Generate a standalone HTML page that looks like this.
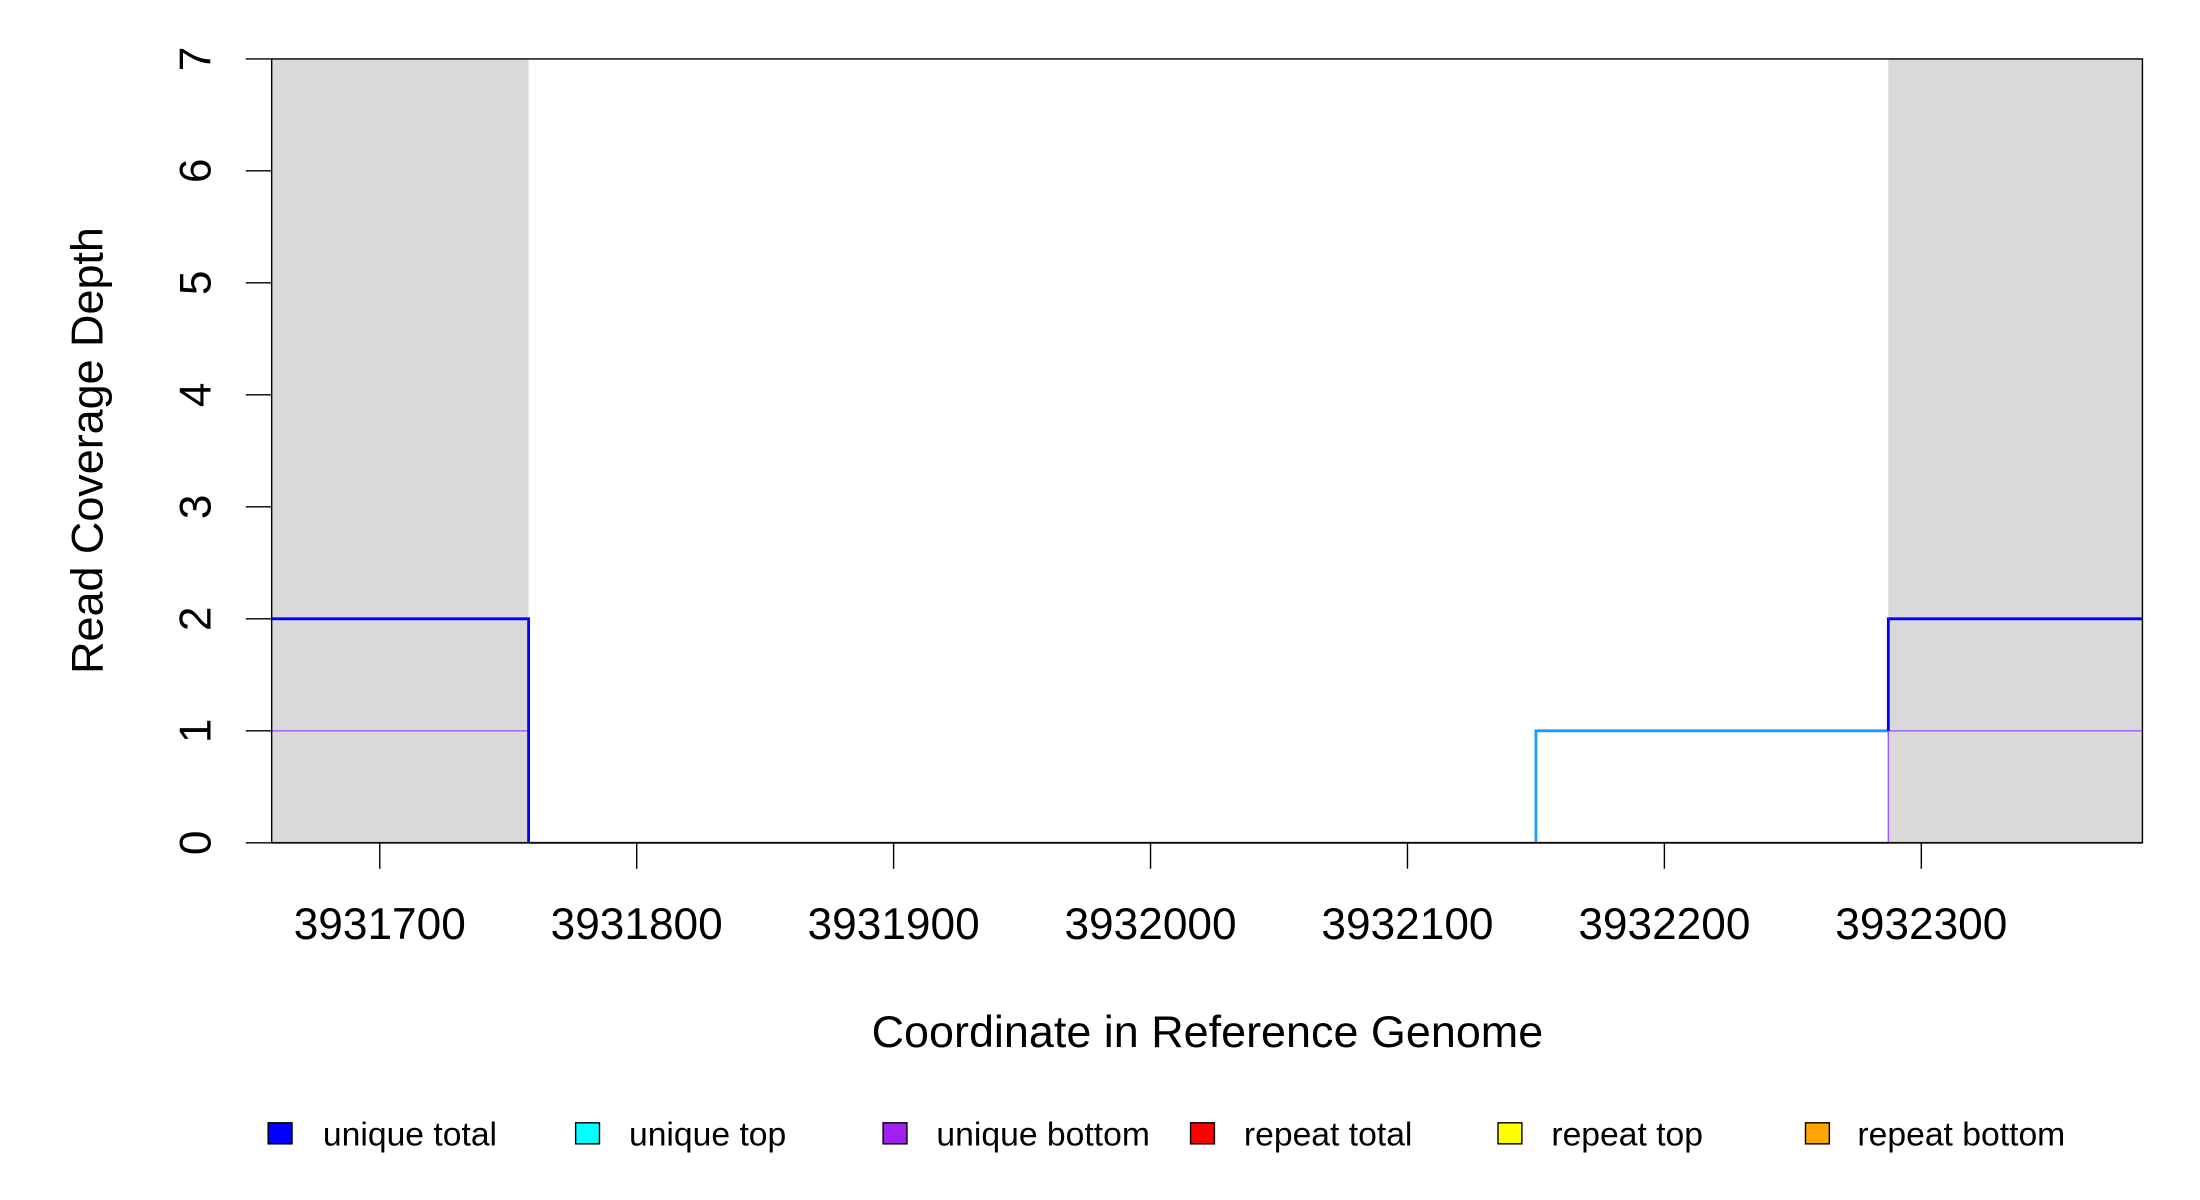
<!DOCTYPE html>
<html><head><meta charset="utf-8"><style>html,body{margin:0;padding:0;background:#fff}svg{display:block}</style></head>
<body>
<svg width="2200" height="1200" viewBox="0 0 1567 855" preserveAspectRatio="none" xmlns="http://www.w3.org/2000/svg" font-family="Liberation Sans, sans-serif">
<rect x="0" y="0" width="1567" height="855" fill="#fff"/>
<rect x="193" y="42" width="183.5" height="558.5" fill="#d9d9d9"/>
<rect x="1345" y="42" width="181" height="558.5" fill="#d9d9d9"/>
<polyline points="193,600.5 376.5,600.5" stroke="#ff8c00" stroke-width="1.5" fill="none"/>
<polyline points="1345,600.5 1526,600.5" stroke="#ff8c00" stroke-width="1.5" fill="none"/>
<polyline points="1094,600.5 1345,600.5" stroke="#e0405a" stroke-width="1.5" fill="none"/>
<polyline points="193,520.7 376.5,520.7 376.5,600.5" stroke="#9b59ff" stroke-width="1" fill="none"/>
<polyline points="1345,600.5 1345,520.7 1526,520.7" stroke="#9b59ff" stroke-width="1" fill="none"/>
<polyline points="376.5,600.5 1094,600.5" stroke="#4060ff" stroke-width="1.5" fill="none"/>
<polyline points="1094,600.5 1094,520.7 1345,520.7" stroke="#1e9bff" stroke-width="2" fill="none"/>
<polyline points="193,440.9 376.5,440.9 376.5,600.5" stroke="#0000ff" stroke-width="2" fill="none"/>
<polyline points="1345,520.7 1345,440.9 1526,440.9" stroke="#0000ff" stroke-width="2" fill="none"/>
<rect x="193.5" y="42" width="1332.5" height="558.5" fill="none" stroke="#000" stroke-width="1"/>
<g stroke="#000" stroke-width="1">
<line x1="175" y1="600.5" x2="193" y2="600.5"/><line x1="175" y1="520.7" x2="193" y2="520.7"/>
<line x1="175" y1="440.9" x2="193" y2="440.9"/><line x1="175" y1="361.1" x2="193" y2="361.1"/>
<line x1="175" y1="281.3" x2="193" y2="281.3"/><line x1="175" y1="201.5" x2="193" y2="201.5"/>
<line x1="175" y1="121.7" x2="193" y2="121.7"/><line x1="175" y1="42" x2="193" y2="42"/>
<line x1="270.5" y1="600.5" x2="270.5" y2="619"/><line x1="453.5" y1="600.5" x2="453.5" y2="619"/>
<line x1="636.5" y1="600.5" x2="636.5" y2="619"/><line x1="819.5" y1="600.5" x2="819.5" y2="619"/>
<line x1="1002.5" y1="600.5" x2="1002.5" y2="619"/><line x1="1185.5" y1="600.5" x2="1185.5" y2="619"/>
<line x1="1368.5" y1="600.5" x2="1368.5" y2="619"/>
</g>
<g font-size="31.5" fill="#000" text-anchor="middle">
<text transform="translate(150,600.5) rotate(-90)">0</text>
<text transform="translate(150,520.7) rotate(-90)">1</text>
<text transform="translate(150,440.9) rotate(-90)">2</text>
<text transform="translate(150,361.1) rotate(-90)">3</text>
<text transform="translate(150,281.3) rotate(-90)">4</text>
<text transform="translate(150,201.5) rotate(-90)">5</text>
<text transform="translate(150,121.7) rotate(-90)">6</text>
<text transform="translate(150,42) rotate(-90)">7</text>
<text x="270.5" y="669">3931700</text><text x="453.5" y="669">3931800</text>
<text x="636.5" y="669">3931900</text><text x="819.5" y="669">3932000</text>
<text x="1002.5" y="669">3932100</text><text x="1185.5" y="669">3932200</text>
<text x="1368.5" y="669">3932300</text>
<text x="860" y="746" font-size="32">Coordinate in Reference Genome</text>
<text transform="translate(73,321) rotate(-90)" font-size="32">Read Coverage Depth</text>
</g>
<g stroke="#000" stroke-width="1">
<rect x="191" y="800" width="17" height="15" fill="#0000ff"/>
<rect x="410" y="800" width="17" height="15" fill="#00ffff"/>
<rect x="629" y="800" width="17" height="15" fill="#a020f0"/>
<rect x="848" y="800" width="17" height="15" fill="#ff0000"/>
<rect x="1067" y="800" width="17" height="15" fill="#ffff00"/>
<rect x="1286" y="800" width="17" height="15" fill="#ffa500"/>
</g>
<g font-size="24" fill="#000">
<text x="230" y="816">unique total</text>
<text x="448" y="816">unique top</text>
<text x="667" y="816">unique bottom</text>
<text x="886" y="816">repeat total</text>
<text x="1105" y="816">repeat top</text>
<text x="1323" y="816">repeat bottom</text>
</g>
</svg>
</body></html>
